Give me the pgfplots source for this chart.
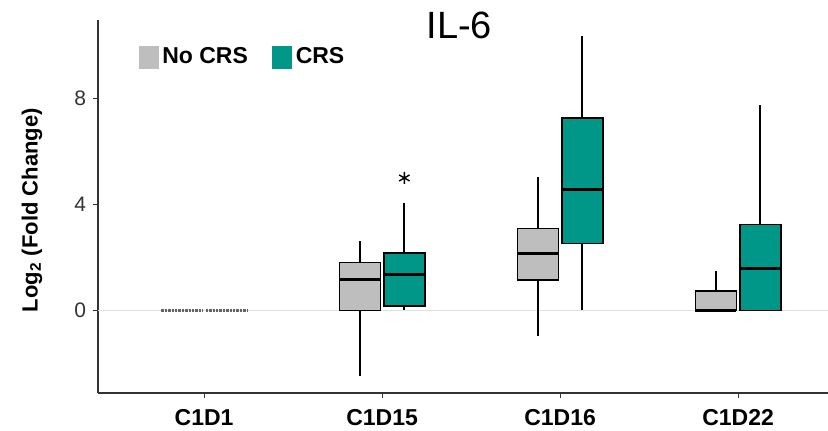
\documentclass[border=0pt]{standalone}
\usepackage{fontspec}
\setmainfont{Liberation Sans}
\usepackage{pgfplots}
\pgfplotsset{compat=1.18}
\usepgfplotslibrary{statistics}
\definecolor{nocrs}{RGB}{190,190,190}
\definecolor{crs}{RGB}{0,150,136}
\begin{document}
\begin{tikzpicture}
\begin{axis}[
 name=ax,
 scale only axis,
 width=365pt, height=186.5pt,
 xmin=0.404, xmax=4.505,
 ymin=-3.10, ymax=10.95,
 axis x line*=bottom, axis y line*=left,
 axis line style={line width=0.6pt, black!80},
 xtick={1,2,3,4}, xticklabels={C1D1,C1D15,C1D16,C1D22},
 xticklabel style={font=\fontsize{11.5}{13}\selectfont\bfseries, yshift=-2pt},
 ytick={0,4,8},
 yticklabel style={font=\fontsize{10.5}{12}\selectfont, text=black!80},
 /pgf/number format/assume math mode=true,
 tick style={black!80, line width=0.5pt},
 tick align=outside, major tick length=2.5pt,
 ylabel={\bfseries Log\textsubscript{2} (Fold Change)},
 ylabel style={font=\fontsize{11}{13}\selectfont, at={(axis description cs:-0.0904,0.49)}, anchor=center},
 title={IL-6},
 title style={font=\fontsize{19}{22}\selectfont, at={(axis description cs:0.495,0.917)}, anchor=base},
 boxplot/draw direction=y,
 boxplot/box extend=0.23,
 boxplot/whisker extend=0,
 boxplot/every median/.style={line width=1.5pt},
 boxplot/every box/.style={line width=0.75pt},
 boxplot/every whisker/.style={line width=1pt},
 clip=false,
 legend style={at={(axis description cs:0.055,0.938)}, anchor=north west, draw=none, fill=none,
   font=\fontsize{11.5}{13}\selectfont\bfseries, inner sep=0pt,
   /tikz/every even column/.append style={column sep=10pt}},
 legend columns=2,
 legend cell align=left,
]
\addlegendimage{legend image code/.code={\fill[nocrs] (0pt,-5.5pt) rectangle (9.5pt,5.5pt);}}
\addlegendentry{No CRS}
\addlegendimage{legend image code/.code={\fill[crs] (0pt,-5.5pt) rectangle (9.5pt,5.5pt);}}
\addlegendentry{CRS}

% zero reference line
\addplot[black!12, line width=0.6pt, forget plot] coordinates {(0.404,0) (4.505,0)};

% C1D1 (all zero)
\addplot[black!60, line width=1.5pt, dash pattern=on 1.2pt off 0.5pt, forget plot] coordinates {(0.76,0) (0.99,0)};
\addplot[black!60, line width=1.5pt, dash pattern=on 1.2pt off 0.5pt, forget plot] coordinates {(1.01,0) (1.24,0)};

% C1D15
\addplot[boxplot prepared={draw position=1.875, lower whisker=-2.46, lower quartile=0, median=1.16, upper quartile=1.81, upper whisker=2.64}, draw=black, fill=nocrs, forget plot] coordinates {};
\addplot[boxplot prepared={draw position=2.125, lower whisker=0.02, lower quartile=0.18, median=1.38, upper quartile=2.18, upper whisker=4.05}, draw=black, fill=crs, forget plot] coordinates {};
\addplot[only marks, mark=asterisk, mark size=3pt, black, line width=0.7pt, forget plot] coordinates {(2.125,5.0)};

% C1D16
\addplot[boxplot prepared={draw position=2.875, lower whisker=-0.94, lower quartile=1.16, median=2.16, upper quartile=3.10, upper whisker=5.05}, draw=black, fill=nocrs, forget plot] coordinates {};
\addplot[boxplot prepared={draw position=3.125, lower whisker=0.03, lower quartile=2.54, median=4.57, upper quartile=7.25, upper whisker=10.35}, draw=black, fill=crs, forget plot] coordinates {};

% C1D22
\addplot[boxplot prepared={draw position=3.875, lower whisker=0, lower quartile=0, median=0, upper quartile=0.74, upper whisker=1.50}, draw=black, fill=nocrs, forget plot] coordinates {};
\addplot[boxplot prepared={draw position=4.125, lower whisker=0, lower quartile=0, median=1.60, upper quartile=3.25, upper whisker=7.74}, draw=black, fill=crs, forget plot] coordinates {};
\end{axis}
\pgfresetboundingbox
\path[use as bounding box] ([xshift=-49pt,yshift=-19pt]ax.south west) rectangle ([yshift=10pt]ax.north east);
\end{tikzpicture}
\end{document}
